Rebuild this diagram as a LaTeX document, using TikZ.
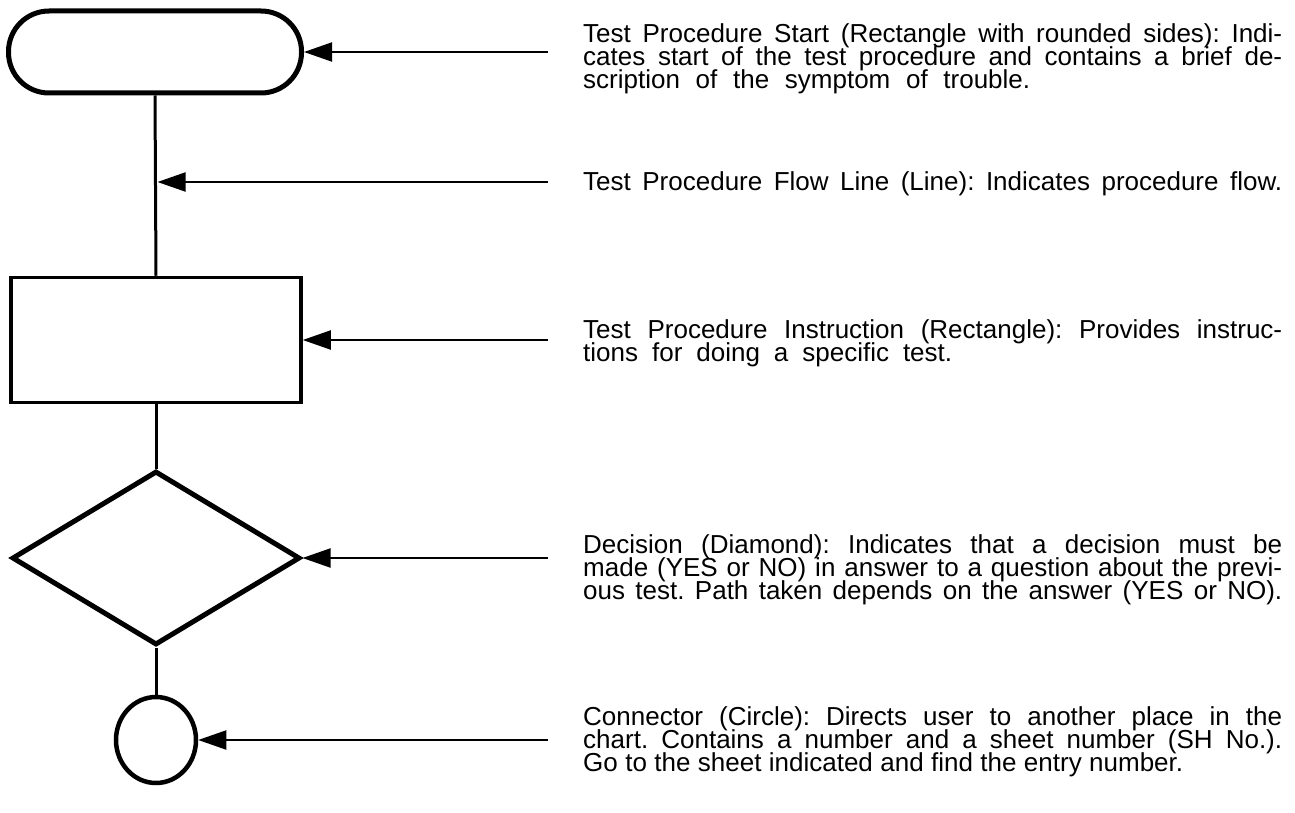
\documentclass[tikz,border=0pt]{standalone}
\usepackage{fontspec}
\setmainfont{Liberation Sans}
\usetikzlibrary{shapes.geometric,arrows.meta}
\newcommand\jl[2]{\hbox to #1pt{\rule{0pt}{21pt}\spaceskip=0.27em plus 1fil minus 0.06em\relax #2}}
\newcommand\para[1]{\vbox{\baselineskip=23pt\lineskiplimit=-100pt\lineskip=0pt\relax #1}}
\frenchspacing
\begin{document}
\begin{tikzpicture}[x=1pt,y=-1pt,
  shp/.style={draw, line width=4.5pt, inner sep=0pt},
  flowline/.style={line width=3pt},
  pointer/.style={line width=2pt, -{Triangle[length=28pt,width=19pt]}},
  desc/.style={anchor=north west, inner sep=0pt, font=\fontsize{26}{23}\selectfont}]
\useasboundingbox (0,0) rectangle (1295,813);
% shapes
\node[shp, line width=5pt, minimum width=293pt, minimum height=82pt, rounded corners=40.5pt] (start) at (155,52) {};
\node[shp, line width=3.5pt, minimum width=290pt, minimum height=125pt] (instr) at (156,340) {};
\node[shp, diamond, line width=5pt, minimum width=288pt, minimum height=174pt] (dec) at (156,558) {};
\node[shp, ellipse, minimum width=80pt, minimum height=86pt] (conn) at (156,740) {};
% flow lines
\draw[flowline] (start.south) -- (instr.north);
\draw[flowline] (instr.south) -- (dec.north);
\draw[flowline] (dec.south) -- (conn.north);
\coordinate (flow) at (157.5,182);
% pointer ends
\coordinate (p1) at (548,52);
\coordinate (p2) at (548,182);
\coordinate (p3) at (548,340);
\coordinate (p4) at (548,558);
\coordinate (p5) at (548,740);
\draw[pointer] (p1) -- (start.east);
\draw[pointer] (p2) -- (flow);
\draw[pointer] (p3) -- (instr.east);
\draw[pointer] (p4) -- (dec.east);
\draw[pointer] (p5) -- (conn.east);
% descriptions
\node[desc] (t1) at (583,21) {\para{\jl{699}{Test Procedure Start (Rectangle with rounded sides): Indi-}
\jl{699}{cates start of the test procedure and contains a brief de-}
\jl{447}{scription of the symptom of trouble.}}};
\node[desc] (t2) at (583,169) {\para{\jl{699}{Test Procedure Flow Line (Line): Indicates procedure flow.}}};
\node[desc] (t3) at (583,317) {\para{\jl{699}{Test Procedure Instruction (Rectangle): Provides instruc-}
\jl{369}{tions for doing a specific test.}}};
\node[desc] (t4) at (583,532) {\para{\jl{699}{Decision (Diamond): Indicates that a decision must be}
\jl{699}{made (YES or NO) in answer to a question about the previ-}
\jl{699}{ous test. Path taken depends on the answer (YES or NO).}}};
\node[desc] (t5) at (583,704) {\para{\jl{699}{Connector (Circle): Directs user to another place in the}
\jl{699}{chart. Contains a number and a sheet number (SH No.).}
\jl{600}{Go to the sheet indicated and find the entry number.}}};
\end{tikzpicture}
\end{document}
